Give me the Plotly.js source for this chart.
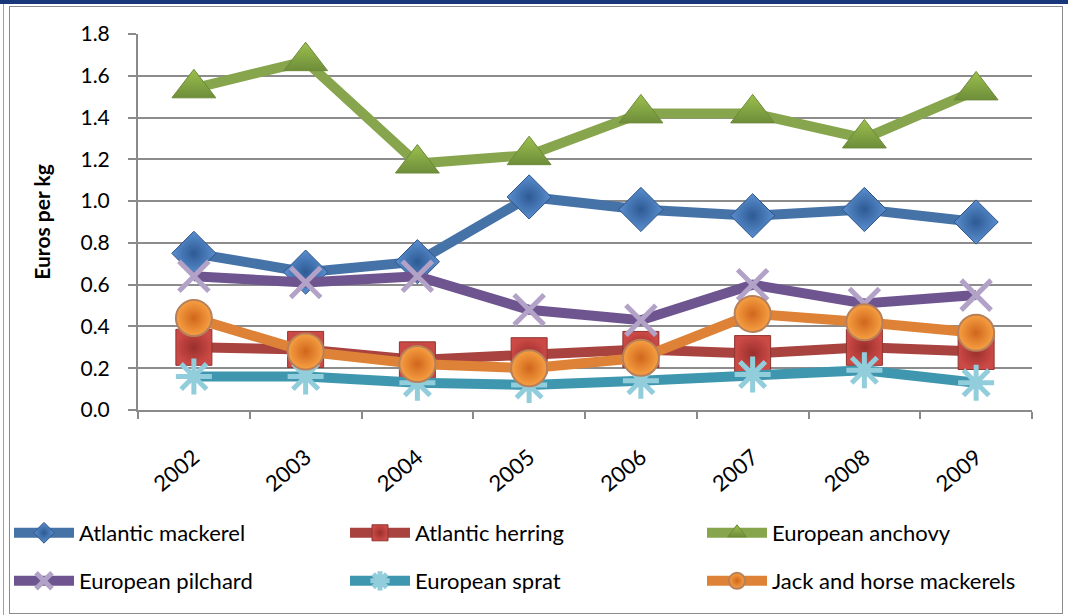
<!DOCTYPE html>
<html>
<head>
<meta charset="utf-8">
<script src="https://cdn.plot.ly/plotly-3.0.1.min.js"></script>
<style>
  html, body { margin: 0; padding: 0; background: #fff; }
  #wrap { position: relative; width: 1068px; height: 615px; overflow: hidden; }
  #chart { position: absolute; left: 0; top: 0; width: 1068px; height: 615px; }
  .topbar { position: absolute; left: 0; top: 0; width: 1068px; height: 4px; background: #17377a; }
  .vl1 { position: absolute; left: 3px; top: 4px; width: 1px; height: 611px; background: #a0a0a0; }
  .frame { position: absolute; left: 9px; top: 6px; width: 1052px; height: 606px; border: 1px solid #8c8c8c; box-sizing: content-box; pointer-events: none; }
</style>
</head>
<body>
<div id="wrap">
  <div id="chart"></div>
  <div class="topbar"></div>
  <div class="vl1"></div>
  <div class="frame"></div>
</div>
<script>
const years = ['2002','2003','2004','2005','2006','2007','2008','2009'];
const atlanticMackerel = [0.75, 0.66, 0.71, 1.02, 0.96, 0.93, 0.96, 0.90];
const atlanticHerring  = [0.30, 0.29, 0.24, 0.26, 0.29, 0.27, 0.30, 0.28];
const europeanAnchovy  = [1.54, 1.67, 1.18, 1.22, 1.42, 1.42, 1.30, 1.53];
const europeanPilchard = [0.64, 0.61, 0.64, 0.48, 0.43, 0.60, 0.51, 0.55];
const europeanSprat    = [0.16, 0.16, 0.13, 0.12, 0.14, 0.17, 0.19, 0.13];
const jackHorseMack    = [0.44, 0.28, 0.22, 0.20, 0.25, 0.46, 0.42, 0.37];
const yTicks = [0, 0.2, 0.4, 0.6, 0.8, 1.0, 1.2, 1.4, 1.6, 1.8];

const FONT = 'Lato, "Open Sans", "DejaVu Sans", sans-serif';

function tr(name, y, lineColor, marker, legendId) {
  return { type: 'scatter', mode: 'lines+markers', name: name, x: years, y: y,
    line: { color: lineColor, width: 10 }, marker: marker, cliponaxis: false, legend: legendId };
}

const data = [
  tr('Atlantic mackerel', atlanticMackerel, '#4573A8',
     { symbol: 'diamond', size: 34, color: '#5B8FD0', gradient: { type: 'radial', color: '#2D5A94' }, line: { color: '#2F5486', width: 1 } }, 'legend'),
  tr('Atlantic herring', atlanticHerring, '#A9433F',
     { symbol: 'square', size: 36, color: '#CC4A46', gradient: { type: 'radial', color: '#9A2F2C' }, line: { color: '#8E3431', width: 1 } }, 'legend2'),
  tr('European anchovy', europeanAnchovy, '#87A54C',
     { symbol: 'triangle-up', size: 38, color: '#9CC04E', gradient: { type: 'vertical', color: '#6E8D3A' }, line: { color: '#6C8A38', width: 1 } }, 'legend3'),
  tr('European pilchard', europeanPilchard, '#6F5590',
     { symbol: 'x-thin-open', size: 30, color: '#B3A2C7', line: { color: '#B3A2C7', width: 5 } }, 'legend4'),
  tr('European sprat', europeanSprat, '#3F97AF',
     { symbol: 'asterisk-open', size: 30, color: '#92CDDC', line: { color: '#92CDDC', width: 5 } }, 'legend5'),
  tr('Jack and horse mackerels', jackHorseMack, '#DD8236',
     { symbol: 'circle', size: 36, color: '#F7A043', gradient: { type: 'radial', color: '#D0661C' }, line: { color: '#B7805A', width: 2 } }, 'legend6')
];

function leg(px, py) {
  return {
    orientation: 'h', xref: 'container', yref: 'container',
    x: px / 1068, y: 1 - py / 615, xanchor: 'left', yanchor: 'top',
    itemwidth: 60,
    font: { family: FONT, size: 22, color: '#000' },
    bgcolor: 'rgba(0,0,0,0)'
  };
}

const layout = {
  width: 1068, height: 615,
  paper_bgcolor: '#ffffff', plot_bgcolor: '#ffffff',
  margin: { l: 138, r: 36, t: 34, b: 205 },
  font: { family: FONT, color: '#000', size: 21 },
  showlegend: true,
  xaxis: {
    type: 'category', range: [-0.5, 7.5], automargin: false,
    showgrid: false, zeroline: false,
    showline: true, linecolor: '#8a8a8a', linewidth: 2,
    ticks: 'outside', tickson: 'boundaries', ticklen: 7, tickcolor: '#8a8a8a', tickwidth: 2,
    tickangle: -40, ticklabelstandoff: 24,
    tickfont: { family: FONT, size: 22, color: '#000' }
  },
  yaxis: {
    range: [0, 1.8], tickvals: yTicks, tickformat: '.1f', automargin: false,
    showgrid: true, gridcolor: '#8c8c8c', gridwidth: 2,
    zeroline: false,
    showline: true, linecolor: '#8a8a8a', linewidth: 2,
    ticks: 'outside', ticklen: 8, tickcolor: '#8a8a8a', tickwidth: 2,
    ticklabelstandoff: 14,
    tickfont: { family: FONT, size: 21, color: '#000' },
    title: { text: '<b>Euros per kg</b>', font: { family: FONT, size: 21, color: '#000' }, standoff: 24 }
  },
  legend:  leg(9, 512),
  legend2: leg(345, 512),
  legend3: leg(702, 512),
  legend4: leg(9, 560),
  legend5: leg(345, 560),
  legend6: leg(702, 560)
};

Plotly.newPlot('chart', data, layout, { displayModeBar: false, staticPlot: true });
</script>
</body>
</html>
